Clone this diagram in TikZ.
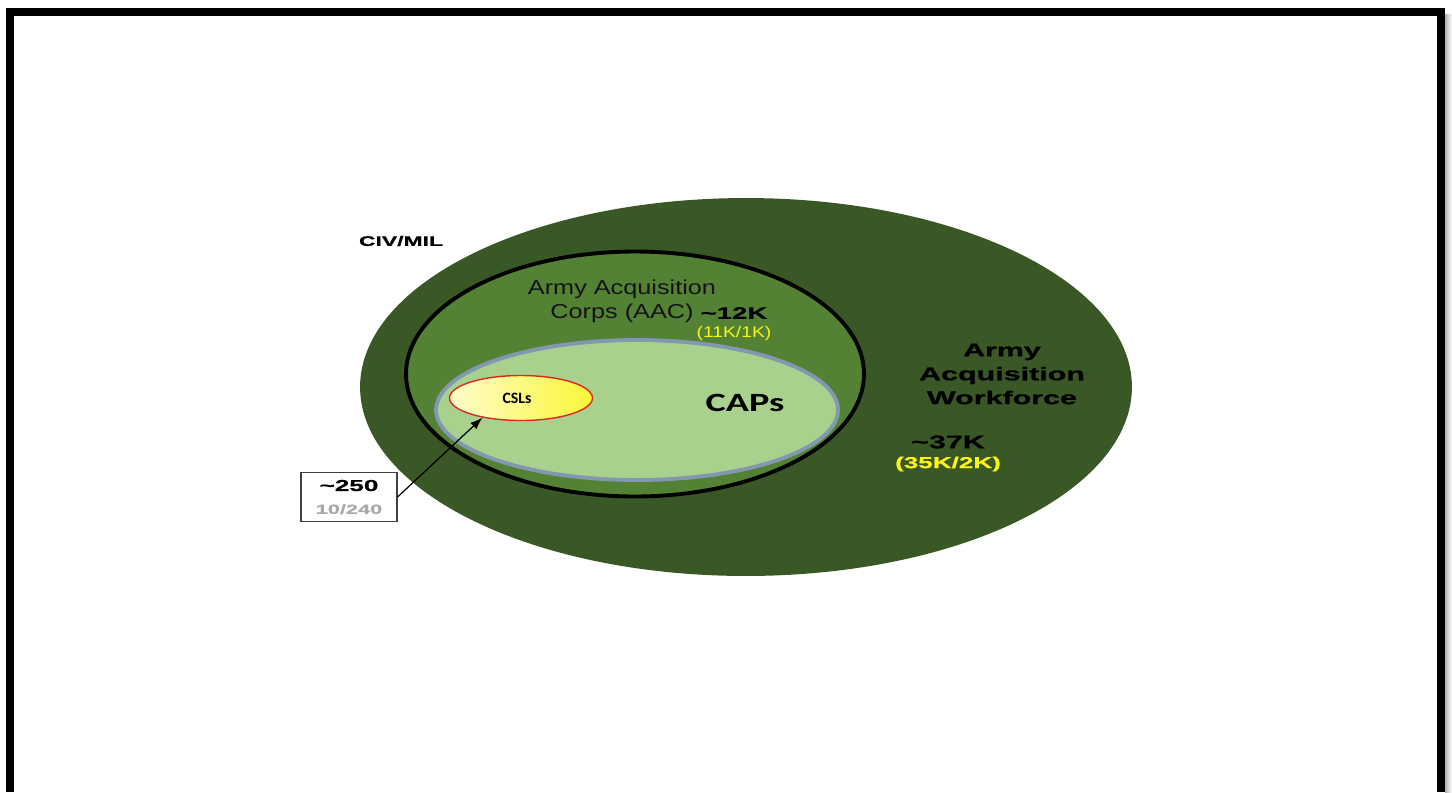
\documentclass[tikz,border=0pt]{standalone}
\usepackage{fontspec}
\setmainfont{Liberation Sans}
\newfontfamily\heavyfont[FakeStretch=1.65,BoldFeatures={FakeBold=0.8}]{Liberation Sans}
\newfontfamily\widefont[FakeStretch=1.25]{Liberation Sans}
\newfontfamily\capsfont[FakeStretch=1.45]{Carlito}
\newfontfamily\calfont{Carlito}
\usepackage{xcolor}
\usetikzlibrary{positioning}
\usetikzlibrary{arrows.meta}
\usetikzlibrary{shapes.geometric}

\definecolor{workforce}{RGB}{58,87,38}
\definecolor{corps}{RGB}{84,130,53}
\definecolor{caps}{RGB}{169,209,142}
\definecolor{capsline}{RGB}{132,151,176}
\definecolor{cslline}{RGB}{220,40,30}
\definecolor{split}{RGB}{250,245,20}
\definecolor{note}{RGB}{170,170,170}

\begin{document}
\begin{tikzpicture}[x=0.02cm,y=-0.02cm,
    txt/.style={inner sep=0pt, font=\heavyfont\bfseries\fontsize{#1}{#1}\selectfont},
    txt/.default=9.5
    ]
\useasboundingbox (0,0) rectangle (1452,792);

% Frame round the slide
\shade[left color=gray!60, right color=white] (1445,14) rectangle (1452,792);
\draw[line width=4.5pt] (10,792) -- (10,12) -- (1441,12) -- (1441,792);

% Army Acquisition Workforce
\node[ellipse, fill=workforce,
    inner sep=0pt,
    minimum width=15.44cm,
    minimum height=7.56cm
    ] (aaw) at (746,387) {};

% Army Acquisition Corps
\node[ellipse, draw, fill=corps,
    line width=2.2pt, inner sep=0pt,
    minimum width=9.16cm,
    minimum height=4.9cm
    ] (aac) at (635,374) {};

% CAPs
\node[ellipse, draw=capsline, fill=caps,
    line width=2.2pt, inner sep=0pt,
    minimum width=8.04cm,
    minimum height=2.8cm
    ] (cap) at (637,410) {};

% CSLs
\node[ellipse, draw=cslline,
    left color=split!22, right color=split!85,
    line width=0.8pt, inner sep=0pt,
    minimum width=2.86cm,
    minimum height=0.9cm
    ] (csl) at (521,398) {};
\node[inner sep=0pt,
    font=\calfont\bfseries\fontsize{9}{9}\selectfont
    ] (cslname) at (517,398) {CSLs};

% Count box
\node[draw=black!75, fill=white,
    line width=0.6pt,
    minimum width=1.92cm,
    minimum height=0.98cm,
    align=center, inner sep=0pt
    ] (box) at (349,497) {{\heavyfont\bfseries\fontsize{9}{11}\selectfont \char`~250}\\[1pt]
    {\color{note}\heavyfont\bfseries\fontsize{7.5}{9}\selectfont 10/240}};

\draw[-{Latex[length=7pt,width=5pt]}, line width=0.7pt] (box.east) -- (csl.207);

% Labels
\node[txt=7.9] (civ) at (401,241) {CIV/MIL};
\node[inner sep=0pt, align=center,
    font=\widefont\fontsize{11.5}{13.6}\selectfont,
    text=black!92
    ] (aacname) at (622,301) {Army Acquisition\\Corps (AAC)};
\node[txt] (aacnum) at (734,313) {\char`~12K};
\node[inner sep=0pt, text=split,
    font=\widefont\fontsize{8.8}{8.8}\selectfont
    ] (aacsplit) at (734,333) {(11K/1K)};
\node[inner sep=0pt,
    font=\capsfont\bfseries\fontsize{15}{15}\selectfont
    ] (capname) at (745,403) {CAPs};
\node[inner sep=0pt, align=center,
    font=\heavyfont\bfseries\fontsize{10.5}{13.6}\selectfont
    ] (aawname) at (1002,374) {Army\\Acquisition\\Workforce};
\node[txt=10.5] (aawnum) at (948,442) {\char`~37K};
\node[txt=9, text=split] (aawsplit) at (948,464) {(35K/2K)};
\end{tikzpicture}
\end{document}
